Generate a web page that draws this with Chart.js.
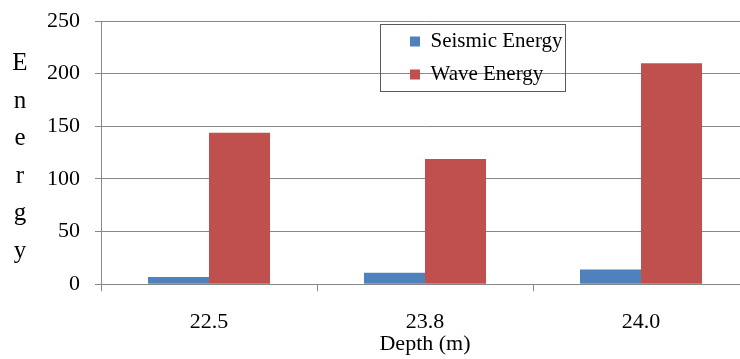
<!DOCTYPE html>
<html>
<head>
<meta charset="utf-8">
<script src="https://cdn.jsdelivr.net/npm/chart.js@4"></script>
<style>
  html, body { margin: 0; padding: 0; background: #fff; overflow: hidden; }
  #wrap { width: 752px; height: 359px; }
</style>
</head>
<body>
<div id="wrap"><canvas id="energyChart" width="752" height="359"></canvas></div>
<script>
// =======================================
// DATA
// =======================================
const depths = ["22.5", "23.8", "24.0"];
const seismicEnergy = [7, 11, 14];
const waveEnergy = [144, 119, 210];
const seriesNames = ["Seismic Energy", "Wave Energy"];
const yTitle = "Energy";
const xTitle = "Depth (m)";

const serif = "'Liberation Serif', 'Times New Roman', serif";

// =======================================
// PLUGINS
// =======================================
// Excel style stacked y title (one letter per line)
const stackedTitle = {
  id: "stackedTitle",
  afterDraw(chart) {
    const ctx = chart.ctx;
    ctx.save();
    ctx.font = "25px " + serif;
    ctx.fillStyle = "#000";
    ctx.textAlign = "center";
    ctx.textBaseline = "alphabetic";
    yTitle.split("").forEach((ch, i) => {
      ctx.fillText(ch, 20, 70 + i * 37.6);
    });
    ctx.restore();
  },
};

// move legend into the plot and draw its frame
const legendBox = {
  id: "legendBox",
  afterLayout(chart) {
    const lg = chart.legend;
    lg.left = 398;
    lg.top = 19;
    lg.right = lg.left + lg.width;
    lg.bottom = lg.top + lg.height;
  },
  afterDraw(chart) {
    const lg = chart.legend;
    const ctx = chart.ctx;
    ctx.save();
    ctx.strokeStyle = "#5a5a5a";
    ctx.lineWidth = 1;
    ctx.strokeRect(Math.round(lg.left - 18) + 0.5, Math.round(lg.top + 5) + 0.5, 185, 67);
    ctx.restore();
  },
};

// =======================================
// CHART
// =======================================
new Chart(document.getElementById("energyChart"), {
  type: "bar",
  data: {
    labels: depths,
    datasets: [
      {
        label: seriesNames[0],
        data: seismicEnergy,
        backgroundColor: "#4F81BD",
      },
      {
        label: seriesNames[1],
        data: waveEnergy,
        backgroundColor: "#C0504D",
      },
    ],
  },
  options: {
    responsive: false,
    animation: false,
    categoryPercentage: 0.565,
    barPercentage: 1,
    layout: { padding: { left: 0, right: 3, top: 21, bottom: 0 } },
    plugins: {
      legend: {
        position: "chartArea",
        align: "start",
        labels: {
          font: { family: serif, size: 21 },
          color: "#000",
          boxWidth: 10,
          boxHeight: 10,
          padding: 12,
        },
      },
      tooltip: { enabled: false },
    },
    scales: {
      x: {
        afterFit: (scale) => { scale.height = 74.7; },
        grid: {
          drawOnChartArea: false,
          drawTicks: true,
          tickLength: 7,
          color: "#888",
        },
        border: { color: "#888" },
        ticks: {
          font: { family: serif, size: 22 },
          color: "#000",
          padding: 18,
        },
        title: {
          display: true,
          text: xTitle,
          font: { family: serif, size: 22 },
          color: "#000",
          padding: { top: 0, bottom: 2 },
        },
      },
      y: {
        min: 0,
        max: 250,
        afterFit: (scale) => {
          scale.width = 101;
          scale.paddingTop = 0;
          scale.paddingBottom = 0;
        },
        grid: { color: "#888", tickLength: 6 },
        border: { color: "#888" },
        ticks: {
          stepSize: 50,
          font: { family: serif, size: 22 },
          color: "#000",
          padding: 15,
        },
      },
    },
  },
  plugins: [stackedTitle, legendBox],
});
</script>
</body>
</html>
